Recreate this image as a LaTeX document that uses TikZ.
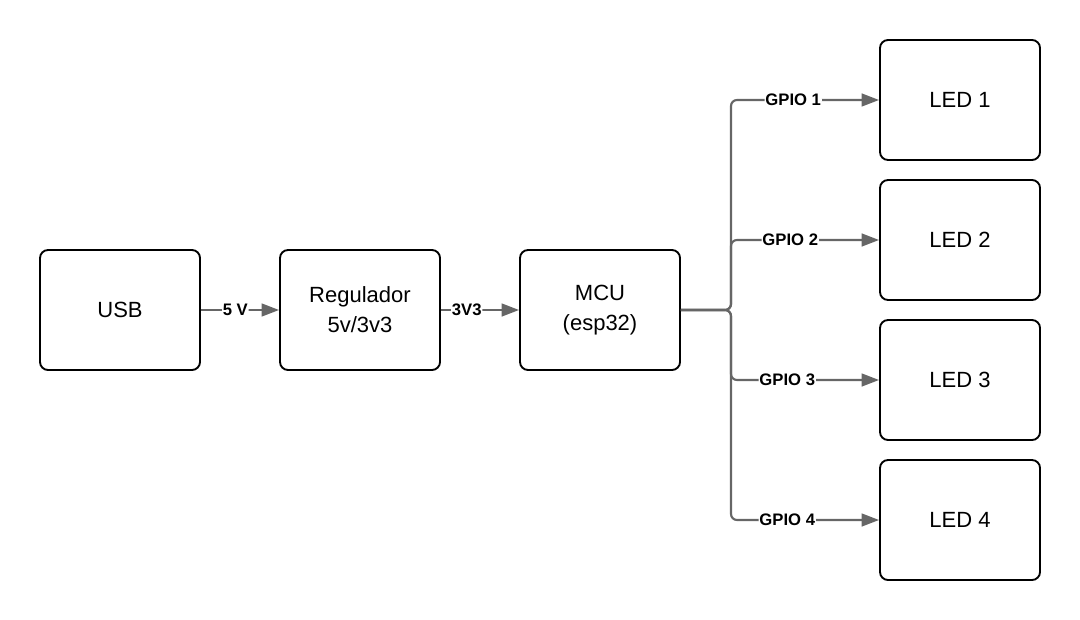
\documentclass[tikz,border=0pt]{standalone}
\usepackage{fontspec}
\setmainfont{Liberation Sans}
\usetikzlibrary{arrows.meta}
\definecolor{wirec}{HTML}{666666}
\tikzset{
  blk/.style={draw=black, line width=1.4pt, rounded corners=6pt, minimum width=120pt, minimum height=90pt, inner sep=0pt, align=center, font=\fontsize{16.5}{22.5}\selectfont, fill=white},
  wire/.style={draw=wirec, line width=1.6pt, -{Triangle[length=13pt,width=9.5pt]}, rounded corners=4.5pt},
  lbl/.style={fill=white, inner sep=0.6pt, font=\fontsize{12.5}{14}\selectfont\bfseries, text=black}
}
\begin{document}
\begin{tikzpicture}[x=0.75pt, y=-0.75pt]
\useasboundingbox (0,0) rectangle (1080,620);
\node[blk] (usb) at (120,310) {USB};
\node[blk] (reg) at (360,310) {Regulador\\5v/3v3};
\node[blk] (mcu) at (600,310) {MCU\\(esp32)};
\node[blk] (led1) at (960,100) {LED 1};
\node[blk] (led2) at (960,240) {LED 2};
\node[blk] (led3) at (960,380) {LED 3};
\node[blk] (led4) at (960,520) {LED 4};
\coordinate (j) at (731,310);
\draw[wire] (usb.east) -- node[lbl, pos=0.44] {5 V} (reg.west);
\draw[wire] (reg.east) -- node[lbl, pos=0.33] {3V3} (mcu.west);
\draw[wire] (mcu.east) -- (j) |- node[lbl, pos=0.71] {GPIO 1} (led1.west);
\draw[wire] (mcu.east) -- (j) |- node[lbl, pos=0.70] {GPIO 2} (led2.west);
\draw[wire] (mcu.east) -- (j) |- node[lbl, pos=0.69] {GPIO 3} (led3.west);
\draw[wire] (mcu.east) -- (j) |- node[lbl, pos=0.69] {GPIO 4} (led4.west);
\end{tikzpicture}
\end{document}
